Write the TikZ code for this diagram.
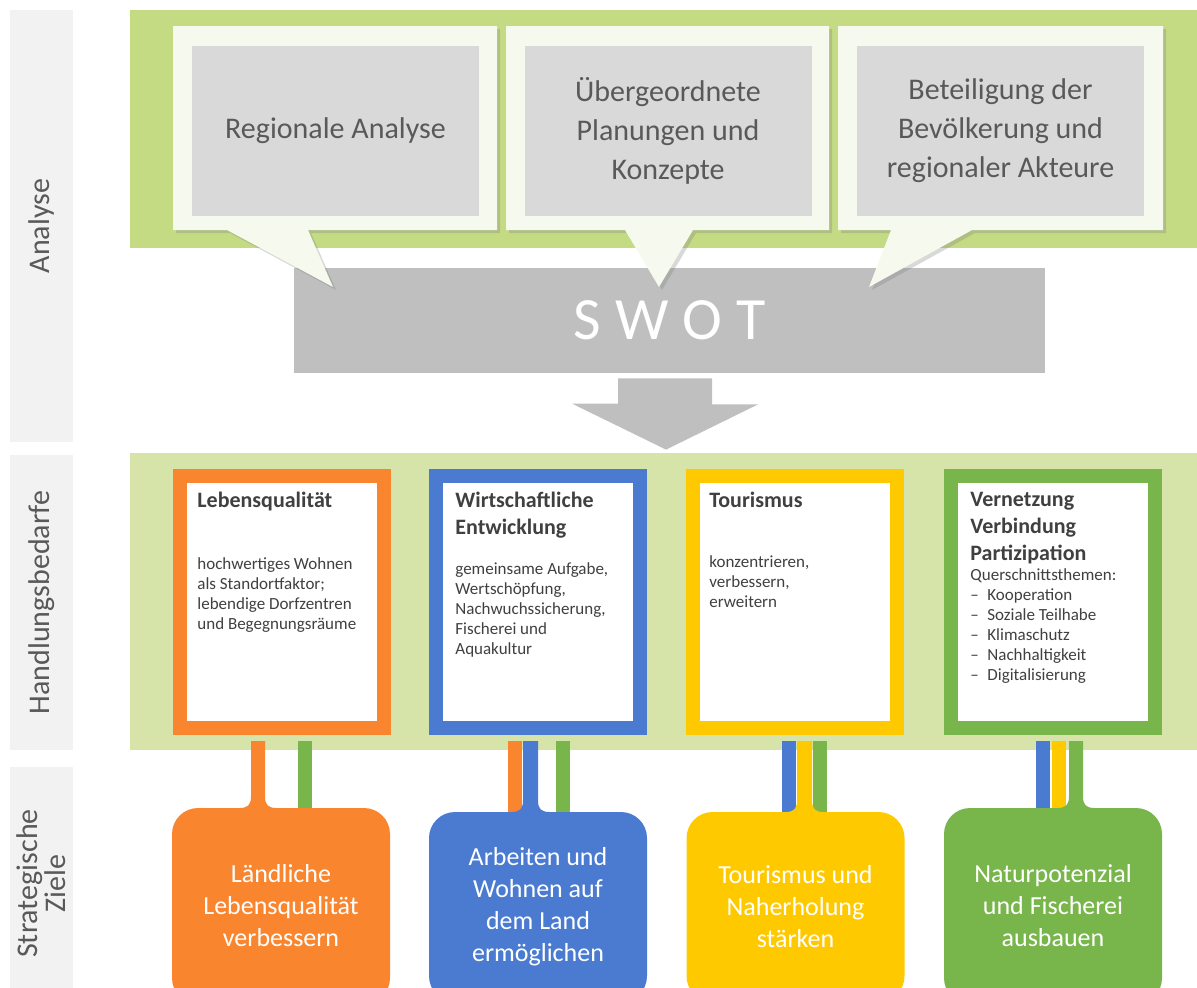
\documentclass[tikz,border=0pt]{standalone}
\usepackage{fontspec}
\setmainfont{Carlito}
\usepackage{tikz}
\usetikzlibrary{calc,positioning,shadows}
\definecolor{panelgreen}{HTML}{C4DB84}
\definecolor{lightgreen}{HTML}{D6E4A9}
\definecolor{bubblewhite}{HTML}{F6F9EE}
\definecolor{boxgrey}{HTML}{D9D9D9}
\definecolor{swotgrey}{HTML}{BFBFBF}
\definecolor{sidegrey}{HTML}{F2F2F2}
\definecolor{textgrey}{HTML}{595959}
\definecolor{darkgrey}{HTML}{404040}
\definecolor{goalorange}{HTML}{F9862F}
\definecolor{goalblue}{HTML}{4A7BD0}
\definecolor{goalyellow}{HTML}{FFC900}
\definecolor{goalgreen}{HTML}{78B54A}

\begin{document}
\begin{tikzpicture}[x=0.5pt,y=-0.5pt,
  sidebar/.style={fill=sidegrey, text=textgrey, rotate=90, minimum height=31.5pt,
    inner sep=0pt, align=center, font=\fontsize{15}{14}\selectfont},
  bubble/.style={fill=bubblewhite,
    drop shadow={shadow xshift=1.5pt, shadow yshift=-1.5pt, opacity=0.3}},
  bubbletext/.style={fill=boxgrey, text=textgrey, minimum width=143.5pt,
    minimum height=85pt, inner sep=0pt, align=center,
    font=\fontsize{15}{19.5}\selectfont},
  needbox/.style={draw=#1, line width=7pt, fill=white, minimum width=102pt,
    minimum height=126pt, inner sep=0pt},
  needhead/.style={text=darkgrey, inner sep=0pt, align=left,
    font=\fontsize{11}{13.5}\selectfont\bfseries},
  needbody/.style={text=darkgrey, inner sep=0pt, align=left,
    font=\fontsize{8.5}{10}\selectfont},
  goalbox/.style={fill=#1, rounded corners=13pt, minimum width=109pt,
    inner sep=0pt, text=white, align=center, font=\fontsize{13}{16}\selectfont},
  stem/.style={line width=7pt}
]
  \useasboundingbox (0,0) rectangle (1197,987);
  \clip (0,0) rectangle (1197,987);

  \node[sidebar, minimum width=216pt] (ana) at (41.5,226) {Analyse};
  \node[sidebar, minimum width=147.5pt] (hdl) at (41.5,602.5) {Handlungsbedarfe};
  \node[sidebar, minimum width=116.5pt] (ziele) at (41.5,883.5) {Strategische\\Ziele};

  \fill[panelgreen] (130,10) rectangle (1197,248);
  \node[fill=lightgreen, minimum width=533.5pt, minimum height=148.5pt,
    inner sep=0pt] (needs) at (663.5,601.5) {};

  \node[fill=swotgrey, minimum width=375.5pt, minimum height=52.5pt, text=white,
    font=\fontsize{30}{30}\selectfont] (swot) at (669.5,320.5)
    {S\hspace{7pt}W\hspace{7pt}O\hspace{7pt}T};
  \fill[swotgrey] ($(swot.south)+(-51.5,5)$) -- ++(94,0) -- ++(0,26) -- ++(46,0)
    -- ($(swot.south |- needs.north)+(-3.5,-3)$) -- ++(-94,-46) -- ++(46,0) -- cycle;

  \path[bubble] (173,26) -- (497,26) -- (497,230) -- (308,230) -- (333,287)
    -- (227,230) -- (173,230) -- cycle;
  \path[bubble] (506,26) -- (829,26) -- (829,230) -- (693,230) -- (659,287)
    -- (625,230) -- (506,230) -- cycle;
  \path[bubble] (838,26) -- (1163,26) -- (1163,230) -- (972,230) -- (869,287)
    -- (891,230) -- (838,230) -- cycle;
  \node[bubbletext] (reg) at (335.5,131) {Regionale Analyse};
  \node[bubbletext] (plan) at (668,131) {Übergeordnete\\Planungen und\\Konzepte};
  \node[bubbletext] (beteil) at (1000.5,131) {Beteiligung der\\Bevölkerung und\\regionaler Akteure};

  \node[needbox=goalorange] (lq) at (282,602) {};
  \node[needbox=goalblue] (we) at (538,602) {};
  \node[needbox=goalyellow] (to) at (795,602) {};
  \node[needbox=goalgreen] (vv) at (1053,602) {};

  \node[needhead, below right=11.5pt and 12pt of lq.north west] (lqhead) {Lebensqualität};
  \node[needbody, below right=44pt and 12pt of lq.north west] (lqbody)
    {hochwertiges Wohnen\\als Standortfaktor;\\lebendige Dorfzentren\\und Begegnungsräume};
  \node[needhead, below right=11.5pt and 13pt of we.north west] (wehead)
    {Wirtschaftliche\\Entwicklung};
  \node[needbody, below right=46.5pt and 13pt of we.north west] (webody)
    {gemeinsame Aufgabe,\\Wertschöpfung,\\Nachwuchssicherung,\\Fischerei und\\Aquakultur};
  \node[needhead, below right=11.5pt and 11.5pt of to.north west] (tohead) {Tourismus};
  \node[needbody, below right=43pt and 11.5pt of to.north west] (tobody)
    {konzentrieren,\\verbessern,\\erweitern};
  \node[needhead, below right=11.5pt and 13pt of vv.north west] (vvhead)
    {Vernetzung\\Verbindung\\Partizipation};
  \node[needbody, below right=49.5pt and 13pt of vv.north west] (vvbody)
    {Querschnittsthemen:\\\makebox[8.5pt][l]{--}Kooperation\\\makebox[8.5pt][l]{--}Soziale Teilhabe\\
     \makebox[8.5pt][l]{--}Klimaschutz\\\makebox[8.5pt][l]{--}Nachhaltigkeit\\\makebox[8.5pt][l]{--}Digitalisierung};

  \node[goalbox=goalorange, minimum height=98pt] (gleben) at (281,906)
    {Ländliche\\Lebensqualität\\verbessern};
  \node[goalbox=goalblue, minimum height=95pt] (garbeit) at (538,907)
    {Arbeiten und\\Wohnen auf\\dem Land\\ermöglichen};
  \node[goalbox=goalyellow, minimum height=95pt] (gtour) at (795.5,907)
    {Tourismus und\\Naherholung\\stärken};
  \node[goalbox=goalgreen, minimum height=98pt] (gnatur) at (1053,906)
    {Naturpotenzial\\und Fischerei\\ausbauen};

  \draw[stem, goalgreen] (305,741) -- (305,0 |- gleben.north);
  \draw[stem, goalorange] (515,741) -- (515,0 |- garbeit.north);
  \draw[stem, goalgreen] (563,741) -- (563,0 |- garbeit.north);
  \draw[stem, goalblue] (789,741) -- (789,0 |- gtour.north);
  \draw[stem, goalgreen] (820,741) -- (820,0 |- gtour.north);
  \draw[stem, goalblue] (1043,741) -- (1043,0 |- gnatur.north);
  \draw[stem, goalyellow] (1059,741) -- (1059,0 |- gnatur.north);

  \fill[goalorange] (251,741) -- (251,796) .. controls (251,805) and (248,808) .. (239,808)
    -- (239,811) -- (277,811) -- (277,808) .. controls (268,808) and (265,805) .. (265,796)
    -- (265,741) -- cycle;
  \fill[goalblue] (523,741) -- (523,800) .. controls (523,809) and (520,812) .. (511,812)
    -- (511,815) -- (550,815) -- (550,812) .. controls (541,812) and (538,809) .. (538,800)
    -- (538,741) -- cycle;
  \fill[goalyellow] (797,741) -- (797,800) .. controls (797,809) and (794,812) .. (785,812)
    -- (785,815) -- (824,815) -- (824,812) .. controls (815,812) and (812,809) .. (812,800)
    -- (812,741) -- cycle;
  \fill[goalgreen] (1069,741) -- (1069,796) .. controls (1069,805) and (1066,808) .. (1057,808)
    -- (1057,811) -- (1095,811) -- (1095,808) .. controls (1086,808) and (1083,805) .. (1083,796)
    -- (1083,741) -- cycle;
\end{tikzpicture}
\end{document}
